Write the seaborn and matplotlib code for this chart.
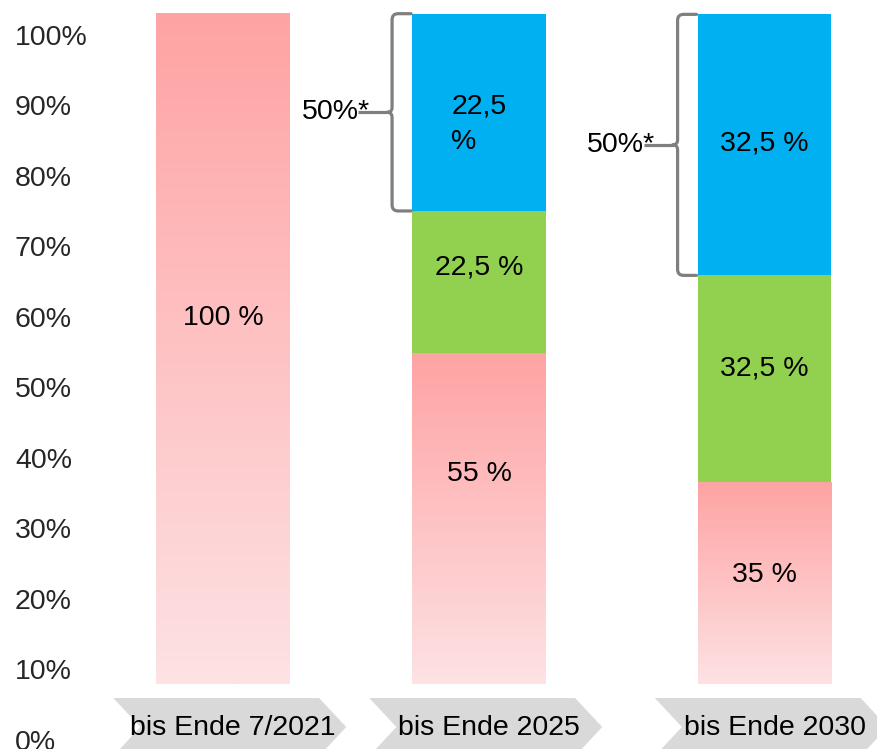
import numpy as np
import pandas as pd
import matplotlib.pyplot as plt
import seaborn as sns
from matplotlib.path import Path
from matplotlib.patches import PathPatch, Polygon
from matplotlib.colors import LinearSegmentedColormap


periods = ["bis Ende 7/2021", "bis Ende 2025", "bis Ende 2030"]

# drawn segment heights (first bar = 100)
pink_height = [100.0, 49.3, 30.1]
green_height = [0.0, 21.2, 30.8]
blue_height = [0.0, 29.4, 38.9]

# shares as printed in the bars
pink_labels = ["100 %", "55 %", "35 %"]
green_labels = ["", "22,5 %", "32,5 %"]
blue_labels = ["", "22,5\n%", "32,5 %"]

bracket_text = "50%*"
tick_values = list(range(0, 101, 10))
tick_labels = [f"{v}%" for v in tick_values]

# styling / layout
PINK_TOP = "#FFA3A3"
PINK_BOTTOM = "#FDE2E4"
GREEN = "#92D050"
BLUE = "#00B0F0"
GREY = "#7F7F7F"
ARROW = "#D9D9D9"
slot = [0.0, 0.9455, 2.0]      # bars are not evenly spaced in the slide
BAR_W = 0.494                  # in slot units
FS = 20.5
label_frac = {
    "pink": [0.545, 0.634, 0.54],
    "green": [0.0, 0.6, 0.55],
    "blue": [0.0, 0.44, 0.506],
}

sns.set_style("white")
plt.rcParams["font.family"] = ["Liberation Sans", "DejaVu Sans"]

df = pd.DataFrame({
    "period": periods,
    "slot": slot,
    "pink": pink_height,
    "green": green_height,
    "blue": blue_height,
})
df["pink_green"] = df["pink"] + df["green"]
df["total"] = df["pink_green"] + df["blue"]
df["blue_top"] = df["total"].where(df["blue"] > 0, 0)
df["green_top"] = df["pink_green"].where(df["green"] > 0, 0)

fig = plt.figure(figsize=(8.77, 7.49), dpi=100)
ax = fig.add_axes([0, 0, 1, 1])

min_gap = np.diff(sorted(slot)).min()
bar_kw = dict(data=df, x="slot", native_scale=True, width=BAR_W / min_gap,
              saturation=1, errorbar=None, linewidth=0, edgecolor="none", ax=ax)

# stacked bars as overlapping layers, tallest first
sns.barplot(y="blue_top", color=BLUE, **bar_kw)
sns.barplot(y="green_top", color=GREEN, **bar_kw)
n_before = len(ax.patches)
sns.barplot(y="pink", color=PINK_TOP, **bar_kw)
pink_bars = ax.patches[n_before:]

# vertical fade on the pink segments
fade = LinearSegmentedColormap.from_list("fade", [PINK_BOTTOM, PINK_TOP])
ramp = np.linspace(0, 1, 256)[:, None]
for bar in pink_bars:
    x0, y0 = bar.get_x(), bar.get_y()
    w, h = bar.get_width(), bar.get_height()
    im = ax.imshow(ramp, extent=(x0, x0 + w, y0, y0 + h), origin="lower",
                   cmap=fade, aspect="auto", interpolation="bilinear",
                   zorder=bar.get_zorder() + 0.1)
    im.set_clip_path(bar)

# labels inside the segments
for i, xc in enumerate(slot):
    segs = [("pink", 0, df["pink"][i], pink_labels[i]),
            ("green", df["pink"][i], df["green"][i], green_labels[i]),
            ("blue", df["pink_green"][i], df["blue"][i], blue_labels[i])]
    for name, bottom, height, text in segs:
        if height <= 0 or not text:
            continue
        y = bottom + height * label_frac[name][i]
        ax.text(xc, y, text, ha="center", va="center", multialignment="left",
                linespacing=1.45, fontsize=FS, color="black", zorder=5)

# brackets around the blue part
rx, ry = 0.022, 0.9
tip, tip_h = 0.018, 0.75
for i, xc in enumerate(slot):
    if df["blue"][i] <= 0:
        continue
    y0, y1 = df["pink_green"][i], df["total"][i]
    ym = (y0 + y1) / 2
    xv = xc - BAR_W / 2 - 0.074
    xe = xc - BAR_W / 2 - 0.004
    verts = [(xe, y1), (xv + rx, y1), (xv, y1), (xv, y1 - ry),
             (xv, ym + tip_h), (xv, ym), (xv - tip, ym),
             (xv, ym), (xv, ym - tip_h),
             (xv, y0 + ry), (xv, y0), (xv + rx, y0), (xe, y0)]
    codes = [Path.MOVETO, Path.LINETO, Path.CURVE3, Path.CURVE3,
             Path.LINETO, Path.CURVE3, Path.CURVE3,
             Path.CURVE3, Path.CURVE3,
             Path.LINETO, Path.CURVE3, Path.CURVE3, Path.LINETO]
    ax.add_patch(PathPatch(Path(verts, codes), fill=False, edgecolor=GREY,
                           linewidth=2.3, capstyle="round", joinstyle="round",
                           zorder=4))
    ax.plot([xv - 0.125, xv - tip], [ym, ym], color=GREY, linewidth=2.3,
            solid_capstyle="butt", zorder=4)
    ax.text(xv - 0.083, ym + 0.05, bracket_text, ha="right", va="center",
            fontsize=FS, color="black", zorder=5)

# chevron shaped category labels
half, depth = 0.43, 0.1
y_top, y_mid, y_bot = -2.09, -6.41, -10.73
for xc, name in zip(slot, periods):
    cx = xc + 0.025
    pts = [(cx - half, y_top), (cx + half - depth, y_top), (cx + half, y_mid),
           (cx + half - depth, y_bot), (cx - half, y_bot), (cx - half + depth, y_mid)]
    ax.add_patch(Polygon(pts, closed=True, facecolor=ARROW, edgecolor="none",
                         zorder=2, clip_on=False))
    ax.text(cx + 0.012, -7.6, name, ha="center", va="baseline",
            fontsize=FS, color="black", zorder=3)

ax.set_xlim(-0.8236, 2.4155)
ax.set_ylim(-9.687, 101.94)
ax.set_xticks([])
ax.set_yticks([])
ax.set_xlabel("")
ax.set_ylabel("")
sns.despine(ax=ax, left=True, bottom=True)

# percentage scale on the left
ax2 = ax.twinx()
ax2.set_ylim(-1.348, 104.97)
ax2.yaxis.set_ticks_position("left")
ax2.set_yticks(tick_values)
ax2.set_yticklabels(tick_labels)
ax2.tick_params(axis="y", length=0, pad=-10.8, labelsize=FS)
for t in ax2.get_yticklabels():
    t.set_horizontalalignment("left")
sns.despine(ax=ax2, left=True, bottom=True, right=True)

fig.savefig("out.png", dpi=100)
plt.close(fig)
